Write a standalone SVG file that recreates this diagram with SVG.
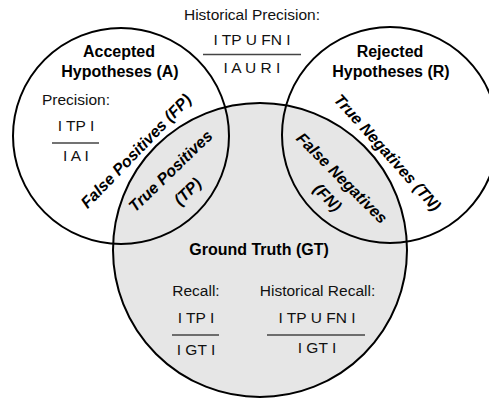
<svg xmlns="http://www.w3.org/2000/svg" width="489" height="399" viewBox="0 0 489 399">
<style>
  .c { stroke: #000; stroke-width: 2; }
  .t { font-family: "Liberation Sans", Arial, sans-serif; font-size: 15.5px; fill: #111; text-anchor: middle; }
  .b { font-family: "Liberation Sans", Arial, sans-serif; font-size: 16px; font-weight: bold; fill: #000; text-anchor: middle; }
  .bi { font-family: "Liberation Sans", Arial, sans-serif; font-size: 16px; font-weight: bold; font-style: italic; fill: #000; text-anchor: middle; }
  .f { stroke: #444; stroke-width: 1.5; }
</style>
<rect width="489" height="399" fill="#fff"/>
<g id="gt">
  <circle class="c" cx="260" cy="250" r="147" fill="#e6e6e6"/>
</g>
<g id="accepted">
  <circle class="c" cx="121" cy="136" r="108" fill="none"/>
  <text class="b" x="119" y="57">Accepted</text>
  <text class="b" x="120" y="77">Hypotheses (A)</text>
  <text class="t" x="76" y="105">Precision:</text>
  <text class="t" x="76" y="131">I TP I</text>
  <line class="f" x1="52" y1="143" x2="99" y2="143"/>
  <text class="t" x="76" y="161">I A I</text>
</g>
<g id="rejected">
  <circle class="c" cx="390" cy="135" r="108" fill="none"/>
  <text class="b" x="390" y="57">Rejected</text>
  <text class="b" x="391" y="77">Hypotheses (R)</text>
</g>
<g id="historical-precision">
  <text class="t" x="252" y="20">Historical Precision:</text>
  <text class="t" x="252" y="45">I TP U FN I</text>
  <line class="f" x1="203" y1="54.5" x2="301" y2="54.5"/>
  <text class="t" x="252" y="73">I A U R I</text>
</g>
<g id="fp">
  <text class="bi" transform="translate(136 151) rotate(-46)" x="0" y="5.5">False Positives (FP)</text>
</g>
<g id="tp">
  <text class="bi" transform="translate(170.5 171) rotate(-44)" x="0" y="5.5">True Positives</text>
  <text class="bi" transform="translate(187.5 191.5) rotate(-44)" x="0" y="5.5">(TP)</text>
</g>
<g id="fn">
  <text class="bi" transform="translate(342 178) rotate(45)" x="0" y="5.5">False Negatives</text>
  <text class="bi" transform="translate(327.5 197.5) rotate(45)" x="0" y="5.5">(FN)</text>
</g>
<g id="tn">
  <text class="bi" transform="translate(387.5 152.5) rotate(48)" x="0" y="5.5">True Negatives (TN)</text>
</g>
<g id="ground-truth-labels">
  <text class="b" x="259" y="255">Ground Truth (GT)</text>
  <text class="t" x="196" y="296">Recall:</text>
  <text class="t" x="196" y="323">I TP I</text>
  <line class="f" x1="172" y1="335" x2="219" y2="335"/>
  <text class="t" x="196" y="355">I GT I</text>
  <text class="t" x="317.5" y="296">Historical Recall:</text>
  <text class="t" x="317" y="323">I TP U FN I</text>
  <line class="f" x1="267" y1="335" x2="365" y2="335"/>
  <text class="t" x="317" y="353">I GT I</text>
</g>
<g id="connectors"></g>
</svg>
